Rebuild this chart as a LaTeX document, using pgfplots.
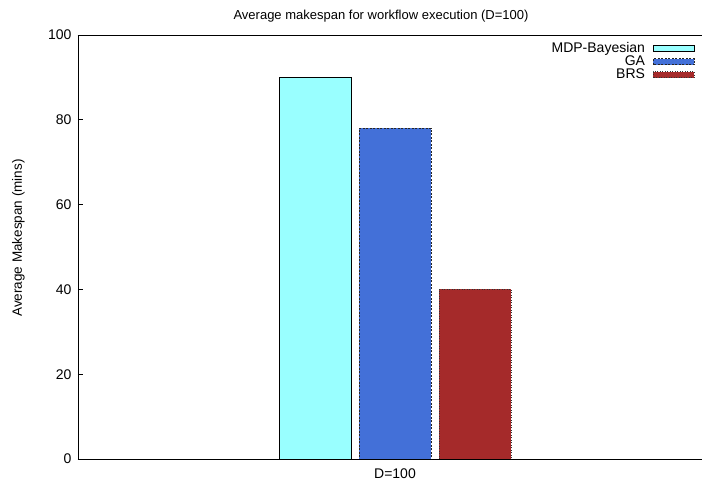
\documentclass[border=0pt]{standalone}
\usepackage{fontspec}
\setmainfont{Liberation Sans}
\usepackage{pgfplots}
\pgfplotsset{compat=1.18}

\definecolor{mdpcol}{HTML}{99FFFF}
\definecolor{gacol}{HTML}{4370D8}
\definecolor{brscol}{HTML}{A52A2A}

\begin{document}
\begin{tikzpicture}
\begin{axis}[
  at={(0pt,0pt)}, anchor=south west,
  scale only axis,
  width=624pt, height=424pt,
  axis x line=box, axis y line=left,
  axis line style={line width=0.9pt, -},
  ybar,
  bar width=0.9,
  xmin=-3.9625, xmax=3.8375,
  ymin=0, ymax=100,
  ytick={0,20,40,60,80,100},
  xtick={0}, xticklabels={D=100},
  major tick length=5pt,
  tick style={black, line width=0.6pt},
  x tick style={draw=none},
  tick align=inside,
  /pgf/number format/assume math mode=true,
  tick label style={font=\fontsize{14}{16}\selectfont},
  yticklabel style={xshift=-3pt},
  xticklabel style={yshift=-6pt},
  ylabel={Average Makespan (mins)},
  ylabel style={font=\fontsize{13.5}{15}\selectfont, at={(rel axis cs:0,0.521)}, anchor=center, yshift=59.5pt},
  title={Average makespan for workflow execution (D=100)},
  title style={font=\fontsize{13}{15}\selectfont, at={(rel axis cs:0.4856,1)}, anchor=base, yshift=9pt},
  legend style={draw=none, fill=none, at={(rel axis cs:0.9888,0.9835)}, anchor=north east,
    font=\fontsize{14}{14}\selectfont, row sep=0pt, inner sep=0pt,
    nodes={inner sep=0pt, text height=10pt, text depth=3pt}},
  legend cell align=right,
  legend plot pos=right,
  legend image code/.code={\path (0pt,0pt); \draw[#1, bar shift=0pt] (8pt,-3pt) rectangle (49pt,3pt);},
]
\addplot[fill=mdpcol, draw=black, line width=0.8pt, bar shift=-1] coordinates {(0,90)};
\addplot[fill=gacol, draw=black!85, line width=0.8pt, dash pattern=on 2pt off 1.5pt, bar shift=0] coordinates {(0,78)};
\addplot[fill=brscol, draw=black!80, line width=0.8pt, dash pattern=on 1pt off 1.5pt, bar shift=1] coordinates {(0,40)};
\legend{MDP-Bayesian, GA, BRS}
\end{axis}
\pgfresetboundingbox
\path[use as bounding box] (-78pt,-22pt) rectangle (624pt,459pt);
\end{tikzpicture}
\end{document}
